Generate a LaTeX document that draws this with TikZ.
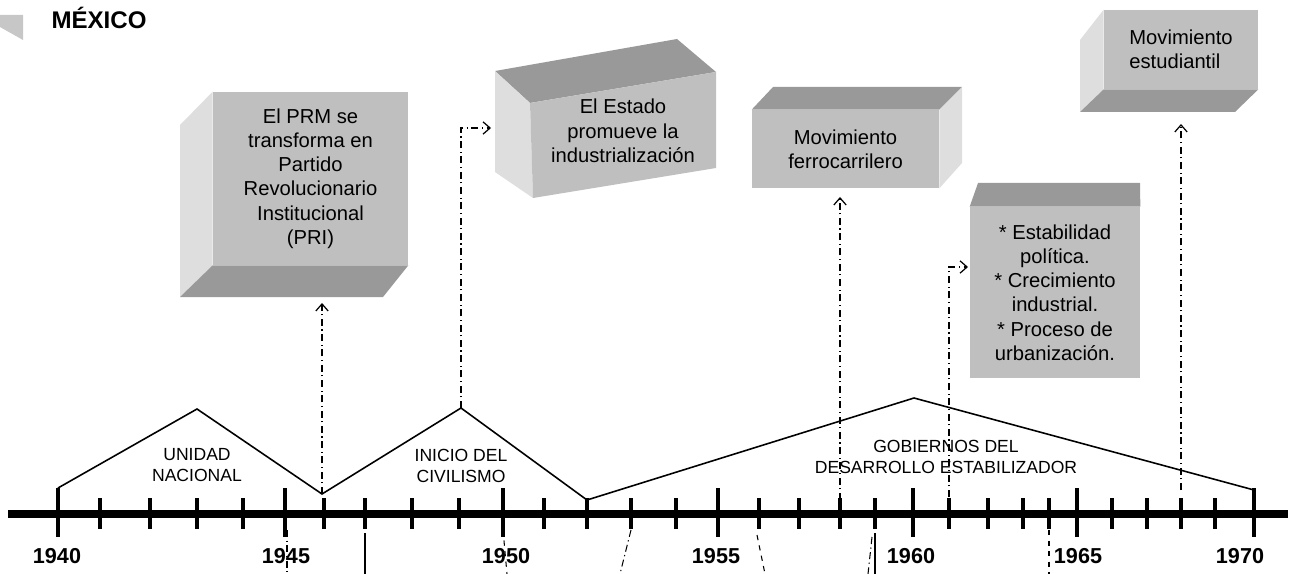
\documentclass[tikz,border=0pt]{standalone}
\usepackage{fontspec}
\setmainfont{Liberation Sans}
\usetikzlibrary{arrows.meta}
\tikzstyle{frontface}=[fill=black!25]
\tikzstyle{lightface}=[fill=black!13]
\tikzstyle{darkface}=[fill=black!40]
\tikzstyle{boxtext}=[align=center, inner sep=0pt, font=\fontsize{11.5}{13.8}\selectfont]
\tikzstyle{era}=[align=center, inner sep=0pt, font=\fontsize{10}{11.5}\selectfont]
\tikzstyle{year}=[inner sep=0pt, font=\bfseries\fontsize{12.3}{14}\selectfont]
\tikzstyle{major}=[line width=2.8pt]
\tikzstyle{minor}=[line width=1.9pt]
\tikzstyle{link}=[->, line width=0.7pt, dash pattern=on 4pt off 2pt on 0.7pt off 2pt]
\tikzstyle{trace}=[line width=0.6pt, dash pattern=on 4pt off 2pt on 0.7pt off 2pt]

\begin{document}
\begin{tikzpicture}
[x=0.02cm, y=-0.02cm, >={Straight Barb[length=4pt,width=7pt]}]
\useasboundingbox (0,0) rectangle (1294,574);
% title
\fill[black!22] (0,15) -- (23,15) -- (23,40) -- (0,27) -- cycle;
\node[inner sep=0pt, font=\bfseries\fontsize{13.7}{16}\selectfont] (mexico) at (99,18) {MÉXICO};
% timeline
\draw[line width=4.5pt] (8,514) -- (1288,514);
\foreach \yr/\x/\lx in {1940/58/57, 1945/285/286, 1950/503/506, 1955/718/716,
  1960/913/911, 1965/1077/1078, 1970/1254/1240}{
  \draw[major] (\x,488) -- (\x,537);
  \node[year] (y\yr) at (\lx,556) {\yr};
}
\foreach \x in {100,150,197,243,324,365,412,459,544,587,631,676,759,799,840,875,
  949,988,1023,1049,1112,1147,1181,1215}
  \draw[minor] (\x,498) -- (\x,529);
% periods
\coordinate (u0) at (58,488);
\coordinate (u1) at (197,409);
\coordinate (u2) at (322,494);
\coordinate (i1) at (461,408);
\coordinate (i2) at (587,500);
\coordinate (g1) at (914,398);
\coordinate (g2) at (1254,490);
\draw[line width=0.9pt] (u0) -- (u1) -- (u2) -- (i1) -- (i2) -- (g1) -- (g2);
\node[era] (unidad) at (197,465) {UNIDAD\\NACIONAL};
\node[era] (inicio) at (461,466) {INICIO DEL\\CIVILISMO};
\node[era] (gobiernos) at (946,457) {GOBIERNOS DEL\\DESARROLLO ESTABILIZADOR};
% boxes
\node[frontface, boxtext, minimum width=3.9cm, minimum height=3.46cm] (prm) at (310.5,178.5)
  {El PRM se\\transforma en\\Partido\\Revolucionario\\Institucional\\(PRI)};
\fill[lightface] (prm.north west) -- (prm.south west) -- (180,297) -- (180,125) -- cycle;
\fill[darkface] (prm.south west) -- (prm.south east) -- (383,297) -- (180,297) -- cycle;

\fill[darkface] (495,71) -- (677,39) -- (716,72) -- (530,103) -- cycle;
\fill[lightface] (495,71) -- (530,103) -- (533,198) -- (495,172) -- cycle;
\fill[frontface] (530,103) -- (716,72) -- (716,168) -- (533,198) -- cycle;
\node[boxtext] (estado) at (623,131) {El Estado\\promueve la\\industrialización};

\node[frontface, boxtext, minimum width=3.74cm, minimum height=1.56cm] (ferro) at (845.5,149)
  {Movimiento\\ferrocarrilero};
\fill[darkface] (ferro.north west) -- (773,87) -- (962,87) -- (ferro.north east) -- cycle;
\fill[lightface] (ferro.north east) -- (962,87) -- (962,163) -- (ferro.south east) -- cycle;

\node[frontface, boxtext, minimum width=3.4cm, minimum height=3.42cm] (estab) at (1055,292.5)
  {* Estabilidad\\política.\\* Crecimiento\\industrial.\\* Proceso de\\urbanización.};
\fill[darkface] (estab.north west) -- (978,183) -- (1140,183) -- (estab.north east) -- cycle;

\node[frontface, boxtext, align=left, minimum width=3.08cm, minimum height=1.58cm] (estud) at (1181,49.5)
  {Movimiento\\estudiantil};
\fill[lightface] (estud.north west) -- (estud.south west) -- (1080,112) -- (1080,40) -- cycle;
\fill[darkface] (estud.south west) -- (estud.south east) -- (1235,112) -- (1080,112) -- cycle;
% links
\coordinate (e1) at (322,303);
\coordinate (e2) at (491,128);
\coordinate (s3) at (840,500);
\coordinate (e3) at (840,197);
\coordinate (s4) at (949,497);
\coordinate (e4) at (968,267);
\coordinate (s5) at (1181,490);
\coordinate (e5) at (1181,124);
\draw[link] (u2) -- (e1);
\draw[link] (i1) |- (e2);
\draw[link] (s3) -- (e3);
\draw[link] (s4) |- (e4);
\draw[link] (s5) -- (e5);
% traces below the line
\draw[trace] (287,530) -- (287,574);
\draw[line width=0.6pt] (365,533) -- (365,574);
\draw[line width=0.6pt, dashed] (503,530) -- (507,574);
\draw[trace] (631,530) -- (620,574);
\draw[line width=0.6pt, dashed] (757,535) -- (765,574);
\draw[line width=0.6pt] (875,533) -- (875,574);
\draw[trace] (872,537) -- (868,574);
\draw[line width=0.6pt, dashed] (1049,530) -- (1049,574);
\end{tikzpicture}
\end{document}
